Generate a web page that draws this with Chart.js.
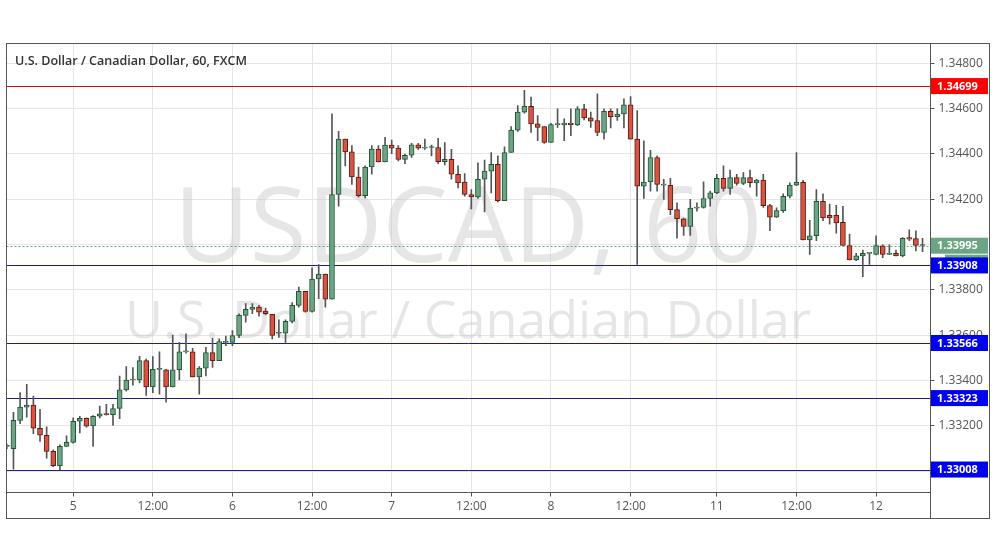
<!DOCTYPE html>
<html><head><meta charset="utf-8">
<script src="https://cdn.jsdelivr.net/npm/chart.js@4/dist/chart.umd.min.js"></script>
<style>html,body{margin:0;padding:0;background:#fff}#w{width:995px;height:556px}</style>
</head><body><div id="w"><canvas id="c"></canvas></div>
<script>
const title = "U.S. Dollar / Canadian Dollar, 60, FXCM";
const xTickIdx = [10,22,34,46,58,70,82,94,107,119,131];
const xTickLabels = ["5","12:00","6","12:00","7","12:00","8","12:00","11","12:00","12"];
const yTicks = [1.330,1.332,1.334,1.336,1.338,1.340,1.342,1.344,1.346,1.348];
const levelValues = [1.34699,1.33908,1.33566,1.33323,1.33008];
const levelLabels = ["1.34699","1.33908","1.33566","1.33323","1.33008"];
const lastPrice = 1.33995, lastPriceLabel = "1.33995", countdown = "20:12";
// candle data [open, high, low, close]
const candles = [
[1.3311,1.3312,1.3310,1.3311],[1.3310,1.3326,1.3301,1.33225],[1.33225,1.33347,1.3321,1.33283],[1.33283,1.33384,1.33239,1.33292],
[1.33292,1.33332,1.33166,1.3319],[1.3319,1.33273,1.33132,1.33159],[1.33159,1.33196,1.33058,1.33088],[1.33088,1.33095,1.33021,1.33025],
[1.33025,1.33117,1.33006,1.3311],[1.3311,1.33157,1.3311,1.33128],[1.33128,1.33236,1.33124,1.33221],[1.33221,1.33243,1.33169,1.33234],
[1.33234,1.33236,1.33195,1.33199],[1.332,1.33246,1.3311,1.33243],[1.33243,1.33288,1.33236,1.33254],[1.33254,1.33296,1.33248,1.3325],
[1.3325,1.33295,1.33203,1.33277],[1.33277,1.3342,1.33232,1.33359],[1.33359,1.33462,1.33354,1.33403],[1.33403,1.33458,1.3338,1.33404],
[1.33403,1.33507,1.3339,1.33488],[1.33488,1.33495,1.33335,1.33372],[1.33372,1.33506,1.33347,1.3345],[1.3345,1.33527,1.3334,1.33451],
[1.33448,1.3345,1.33305,1.33372],[1.33372,1.33601,1.33372,1.33448],[1.33448,1.33569,1.33403,1.33527],[1.33527,1.33606,1.33521,1.33528],
[1.33527,1.33542,1.33416,1.33416],[1.33416,1.33462,1.3334,1.33455],[1.33455,1.33547,1.33421,1.33524],[1.33524,1.33587,1.33458,1.33488],
[1.33488,1.33584,1.33488,1.33572],[1.33569,1.33596,1.33554,1.3357],[1.33569,1.33621,1.33554,1.33599],[1.33599,1.33695,1.3359,1.33688],
[1.33688,1.3374,1.33658,1.33714],[1.33714,1.3374,1.33695,1.33724],[1.33724,1.33732,1.33684,1.33702],[1.33707,1.3372,1.3369,1.33695],
[1.33692,1.33692,1.33584,1.33599],[1.33609,1.33668,1.33591,1.3361],[1.33609,1.33668,1.33569,1.33661],[1.33661,1.33744,1.33655,1.33732],
[1.33732,1.33813,1.33724,1.33794],[1.33794,1.33794,1.33702,1.33705],[1.33705,1.33898,1.33702,1.33848],[1.33848,1.33912,1.33761,1.3387],
[1.3387,1.3387,1.33724,1.33759],[1.33759,1.34577,1.33759,1.34221],[1.34221,1.34499,1.34169,1.34465],[1.34465,1.34465,1.34347,1.34409],
[1.34409,1.34436,1.34265,1.34298],[1.34298,1.34342,1.34209,1.34216],[1.34216,1.34347,1.34206,1.34342],[1.34342,1.34436,1.3431,1.34421],
[1.34421,1.34436,1.34364,1.34364],[1.34364,1.34473,1.34364,1.34439],[1.34439,1.34461,1.34401,1.34425],[1.34425,1.34436,1.34369,1.34376],
[1.34376,1.34399,1.34357,1.34394],[1.34394,1.34446,1.34384,1.3444],[1.3444,1.34446,1.3442,1.34425],[1.34425,1.34465,1.3442,1.34426],
[1.34428,1.34439,1.34391,1.34429],[1.34428,1.34468,1.34357,1.34366],[1.34366,1.3445,1.34351,1.34376],[1.34376,1.3442,1.34288,1.3431],
[1.3431,1.34347,1.3425,1.34272],[1.34276,1.34313,1.34213,1.34221],[1.34221,1.34243,1.34157,1.3421],[1.3421,1.34361,1.34203,1.34288],
[1.34288,1.34373,1.34144,1.34324],[1.34324,1.34406,1.34228,1.34354],[1.34354,1.34391,1.34188,1.34194],[1.34194,1.34431,1.34194,1.34406],
[1.34406,1.3452,1.34406,1.34505],[1.34505,1.34613,1.34499,1.34584],[1.34584,1.3468,1.3458,1.3461],[1.3461,1.3465,1.34495,1.34532],
[1.34532,1.34569,1.34458,1.34517],[1.3452,1.3452,1.34446,1.3445],[1.3445,1.34535,1.3445,1.34529],[1.34529,1.34599,1.34517,1.3453],
[1.34528,1.34554,1.34458,1.34536],[1.34536,1.34599,1.3448,1.34528],[1.34528,1.34609,1.34524,1.34599],[1.34599,1.34618,1.3455,1.34559],
[1.34559,1.34584,1.34517,1.34544],[1.34547,1.34665,1.3448,1.34495],[1.34495,1.34599,1.34465,1.34588],[1.34588,1.34599,1.34514,1.34564],
[1.34564,1.34599,1.34547,1.34576],[1.34576,1.34643,1.34514,1.34616],[1.34616,1.34653,1.34465,1.34465],[1.34465,1.34591,1.33912,1.34258],
[1.34258,1.34458,1.34203,1.34276],[1.34276,1.34416,1.34236,1.34384],[1.34384,1.34391,1.34236,1.34265],[1.34262,1.34288,1.34199,1.34263],
[1.34261,1.34292,1.34132,1.34154],[1.34154,1.34184,1.34028,1.34114],[1.34114,1.34117,1.3404,1.3408],[1.3408,1.34199,1.3404,1.34161],
[1.34161,1.34184,1.34147,1.34164],[1.34164,1.34277,1.3416,1.34203],[1.34203,1.34236,1.34169,1.34228],[1.34228,1.3431,1.34224,1.34292],
[1.34292,1.34347,1.34236,1.34248],[1.34248,1.34328,1.34221,1.34295],[1.34295,1.3431,1.34262,1.3427],[1.3427,1.34317,1.34264,1.34295],
[1.34295,1.34328,1.34253,1.34273],[1.34272,1.34288,1.34213,1.34284],[1.34284,1.3431,1.34164,1.34172],[1.34172,1.34177,1.34061,1.34121],
[1.34121,1.34162,1.3412,1.3415],[1.3415,1.34224,1.34142,1.34213],[1.34213,1.34272,1.34206,1.34262],[1.34262,1.34406,1.3426,1.34274],
[1.34274,1.34283,1.34021,1.34021],[1.34021,1.34107,1.33957,1.34039],[1.34039,1.34243,1.34017,1.34191],[1.34191,1.34224,1.34105,1.34117],
[1.34129,1.34179,1.3409,1.34117],[1.34129,1.34173,1.3405,1.34095],[1.34098,1.34169,1.33996,1.33996],[1.33996,1.34046,1.33932,1.33932],
[1.33932,1.33961,1.33929,1.3395],[1.3395,1.33976,1.33858,1.33961],[1.33961,1.33963,1.33912,1.33962],[1.33957,1.34039,1.33954,1.33996],
[1.33994,1.33999,1.33942,1.33957],[1.33957,1.33999,1.33955,1.33958],[1.33961,1.33976,1.3395,1.3395],[1.3395,1.34031,1.33946,1.34028],
[1.34031,1.34065,1.34017,1.34024],[1.34026,1.34061,1.33972,1.33996],[1.33996,1.34028,1.33969,1.33997]
];
const UP='#6ba583', UPB='#225437', DN='#d75442', DNB='#5b1a13';
const wicks = candles.map((c,i)=>({x:i, y:[c[2],c[1]]}));
const bodies = candles.map((c,i)=>({x:i, y:[c[0],c[3]]}));
const bodyFill = candles.map(c=>c[3]>=c[0]?UP:DN);
const bodyBorder = candles.map(c=>c[3]>=c[0]?UPB:DNB);

const deco = {
  id:'deco',
  beforeDatasetsDraw(ch){
    const {ctx, chartArea:a} = ch;
    ctx.save();
    ctx.beginPath(); ctx.rect(a.left,a.top,a.right-a.left,a.bottom-a.top); ctx.clip();
    ctx.fillStyle='rgba(200,200,200,0.45)';
    ctx.textAlign='center'; ctx.textBaseline='middle';
    ctx.font='104px "Open Sans", Arial, sans-serif';
    ctx.fillText('USDCAD, 60', 468, 232);
    ctx.font='52px "Open Sans", Arial, sans-serif';
    ctx.fillText('U.S. Dollar / Canadian Dollar', 468, 323);
    const ys = ch.scales.y;
    ctx.setLineDash([2,2]); ctx.strokeStyle='#6ba583'; ctx.lineWidth=1;
    let yy=Math.round(ys.getPixelForValue(lastPrice))+0.5;
    ctx.beginPath(); ctx.moveTo(a.left,yy); ctx.lineTo(a.right,yy); ctx.stroke();
    ctx.setLineDash([]);
    levelValues.forEach((v,i)=>{
      const y=Math.round(ys.getPixelForValue(v))+0.5;
      ctx.strokeStyle = i===0?'#cc1111':'#1e1e88';
      ctx.beginPath(); ctx.moveTo(a.left,y); ctx.lineTo(a.right,y); ctx.stroke();
    });
    ctx.restore();
  },
  afterDraw(ch){
    const {ctx} = ch;
    const ys = ch.scales.y;
    ctx.save();
    ctx.strokeStyle='#555'; ctx.lineWidth=1;
    ctx.strokeRect(6.5,43.5,983,475);
    ctx.beginPath(); ctx.moveTo(930.5,43.5); ctx.lineTo(930.5,518.5); ctx.moveTo(6.5,492.5); ctx.lineTo(930.5,492.5); ctx.stroke();
    ctx.font='bold 11px "Open Sans", Arial, sans-serif';
    ctx.textAlign='left'; ctx.textBaseline='middle';
    const box=(y,bg,txt,x0)=>{ctx.fillStyle=bg; ctx.fillRect(x0,y-8,988-x0,16); ctx.fillStyle='#fff'; ctx.fillText(txt,x0+(x0<935?6:5),y+0.5);};
    const yp=ys.getPixelForValue(lastPrice);
    box(yp,'#6ba583',lastPriceLabel,931);
    box(yp+17,'#6ba583',countdown,945);
    levelValues.forEach((v,i)=>box(ys.getPixelForValue(v), i===0?'#ff0000':'#0000ee', levelLabels[i], 931));
    ctx.font='600 12.5px "Open Sans", Arial, sans-serif';
    ctx.fillStyle='#333'; ctx.textBaseline='middle';
    ctx.fillText(title,15,61);
    ctx.restore();
  }
};

new Chart(document.getElementById('c'),{
  type:'bar',
  data:{datasets:[
    {data:wicks, backgroundColor:'#555', barThickness:1, grouped:false, order:2},
    {data:bodies, backgroundColor:bodyFill, borderColor:bodyBorder, borderWidth:1, borderSkipped:false, barThickness:5, minBarLength:1, grouped:false, order:1}
  ]},
  options:{
    responsive:true, maintainAspectRatio:false, animation:false,
    layout:{padding:{left:6.5,top:43.5,right:5,bottom:37}},
    plugins:{legend:{display:false},tooltip:{enabled:false}},
    scales:{
      x:{type:'linear', min:-0.05, max:139.2, offset:false,
        afterBuildTicks(s){s.ticks=xTickIdx.map(v=>({value:v}));},
        afterFit(s){s.height=26.5;},
        grid:{offset:false, color:'#e6e6e6', tickLength:4, tickColor:'#555', drawOnChartArea:true},
        border:{display:false},
        ticks:{callback:(v)=>xTickLabels[xTickIdx.indexOf(v)]??'', color:'#555', font:{size:12,family:'"Open Sans", Arial, sans-serif'}, maxRotation:0, autoSkip:false, padding:3}},
      y:{position:'right', min:1.329067, max:1.348867,
        afterBuildTicks(s){s.ticks=yTicks.map(v=>({value:v}));},
        afterFit(s){s.width=59.5;},
        grid:{color:'#e6e6e6', tickLength:4, tickColor:'#555'},
        border:{display:false},
        ticks:{callback:v=>v.toFixed(5), color:'#555', font:{size:12,family:'"Open Sans", Arial, sans-serif'}, padding:4}}
    }
  },
  plugins:[deco]
});
</script></body></html>
